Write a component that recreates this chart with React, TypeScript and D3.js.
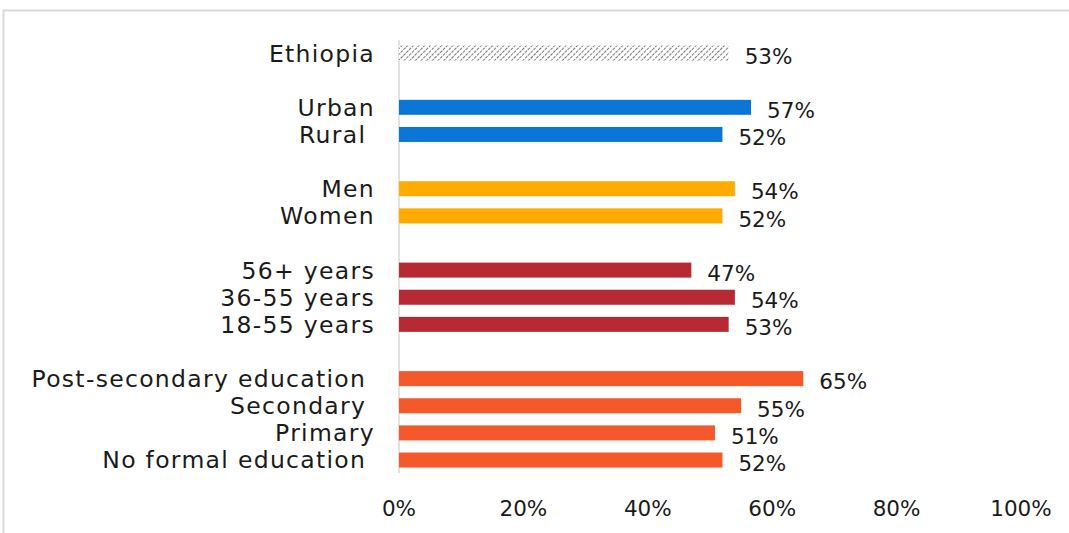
import React from "react";
import * as d3 from "d3";

const categories = [
  "Ethiopia",
  "",
  "Urban",
  "Rural ",
  " ",
  "Men",
  "Women",
  "  ",
  "56+ years",
  "36-55 years",
  "18-55 years",
  "   ",
  "Post-secondary education ",
  "Secondary ",
  "Primary",
  "No formal education ",
];
const values: (number | null)[] = [
  0.53, null, 0.566, 0.52, null, 0.54, 0.52, null, 0.47, 0.54, 0.53, null, 0.65, 0.55, 0.508, 0.52,
];
const groups: (string | null)[] = [
  "total", null, "area", "area", null, "sex", "sex", null, "age", "age", "age", null, "edu", "edu", "edu", "edu",
];
const tickValues = [0, 0.2, 0.4, 0.6, 0.8, 1.0];

const colors: Record<string, string> = {
  total: "url(#hatch)",
  area: "#0b76d6",
  sex: "#ffab00",
  age: "#b72a33",
  edu: "#f4582b",
};

const W = 1069;
const H = 533;
const FONT = "'DejaVu Sans', sans-serif";

export default function App() {
  const x = d3.scaleLinear().domain([0, 1]).range([399, 1021]);
  const y = d3.scaleBand<string>().domain(categories).range([39.5, 473.6]).padding(0);
  const bh = 15;
  const fmt = d3.format(".0%");

  return (
    <svg
      width={W}
      height={H}
      style={{ position: "absolute", left: 0, top: 0, background: "#fff" }}
      fontFamily={FONT}
    >
      <defs>
        <pattern id="hatch" patternUnits="userSpaceOnUse" width="4" height="4" patternTransform="rotate(45)">
          <rect width="4" height="4" fill="#fff" />
          <line x1="0" y1="0" x2="0" y2="4" stroke="#555" strokeWidth="1.6" strokeDasharray="2 1" />
        </pattern>
      </defs>
      <rect x={3.5} y={10.5} width={1200} height={700} fill="none" stroke="#d9d9d9" strokeWidth={2} />
      <line x1={x(0)} x2={x(0)} y1={40} y2={473} stroke="#d9d9d9" strokeWidth={1.5} />
      {categories.map((c, i) => {
        const v = values[i];
        const g = groups[i];
        const cy = (y(c) as number) + y.bandwidth() / 2;
        if (v === null || g === null) return null;
        return (
          <g key={i}>
            <text
              x={375}
              y={cy}
              dy="0.36em"
              textAnchor="end"
              fontSize={23.5}
              letterSpacing={1.3}
              fill="#1a1a1a"
              style={{ whiteSpace: "pre" }}
            >
              {c}
            </text>
            <rect x={x(0)} y={cy - bh / 2} width={x(v) - x(0)} height={bh} fill={colors[g]} />
            <text x={x(v) + 16} y={cy + 3} dy="0.36em" fontSize={21.5} fill="#1a1a1a">
              {fmt(v)}
            </text>
          </g>
        );
      })}
      {tickValues.map((t) => (
        <text key={t} x={x(t)} y={508} dy="0.36em" textAnchor="middle" fontSize={21.5} fill="#1a1a1a">
          {fmt(t)}
        </text>
      ))}
    </svg>
  );
}
